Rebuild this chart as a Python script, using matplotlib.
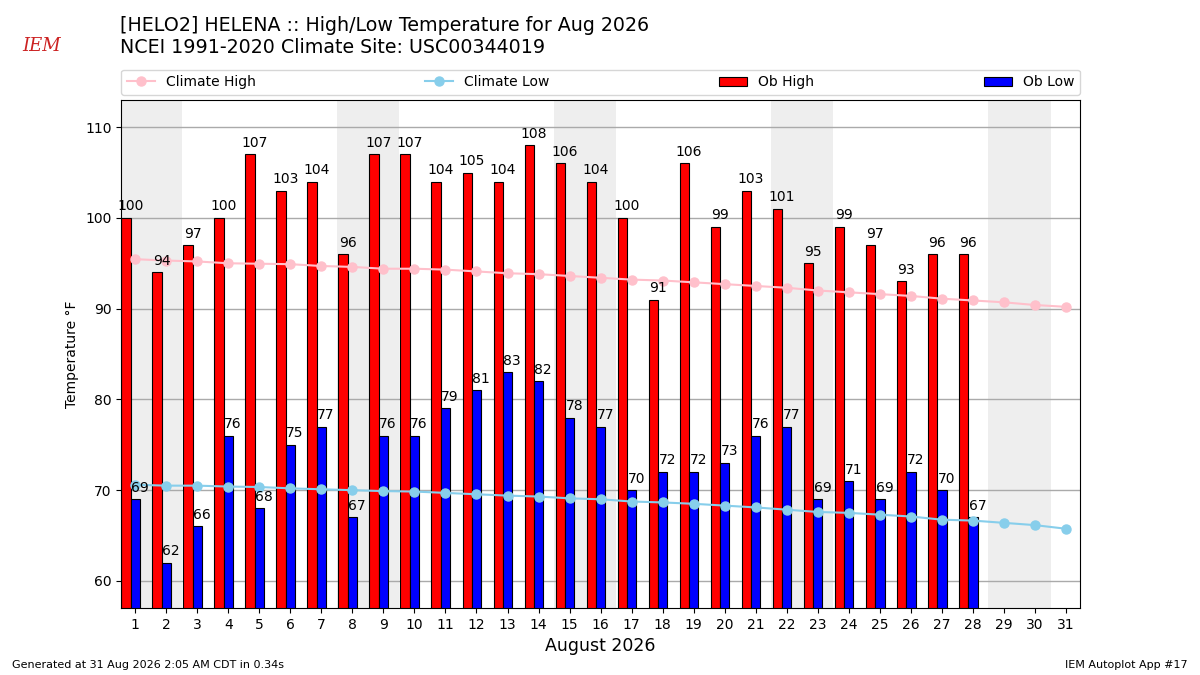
import numpy as np
import matplotlib
matplotlib.use('Agg')
import matplotlib.pyplot as plt

days = np.arange(1, 32)
ob_days = np.arange(1, 29)
ob_high = [100, 94, 97, 100, 107, 103, 104, 96, 107, 107, 104, 105, 104, 108,
           106, 104, 100, 91, 106, 99, 103, 101, 95, 99, 97, 93, 96, 96]
ob_low = [69, 62, 66, 76, 68, 75, 77, 67, 76, 76, 79, 81, 83, 82,
          78, 77, 70, 72, 72, 73, 76, 77, 69, 71, 69, 72, 70, 67]
clim_high = [95.45, 95.3, 95.2, 95.0, 94.95, 94.9, 94.7, 94.6, 94.4, 94.4, 94.3,
             94.1, 93.9, 93.8, 93.6, 93.4, 93.2, 93.1, 92.9, 92.7, 92.5, 92.3,
             92.0, 91.8, 91.6, 91.4, 91.1, 90.9, 90.7, 90.4, 90.2]
clim_low = [70.6, 70.5, 70.5, 70.4, 70.35, 70.2, 70.1, 70.0, 69.9, 69.85, 69.7,
            69.55, 69.4, 69.3, 69.1, 69.0, 68.75, 68.65, 68.5, 68.3, 68.1, 67.85,
            67.6, 67.5, 67.3, 67.1, 66.75, 66.65, 66.4, 66.15, 65.75]
weekend_starts = [1, 8, 15, 22, 29]

fig = plt.figure(figsize=(12, 6.75), dpi=100)
ax = fig.add_axes([0.101, 0.099, 0.799, 0.753])

for d in weekend_starts:
    ax.axvspan(d - 0.5, d + 1.5, color='#eeeeee', zorder=0, lw=0)

b_hi = ax.bar(ob_days - 0.3, ob_high, width=0.3, fc='r', ec='k', lw=0.8, label='Ob High', zorder=2)
b_lo = ax.bar(ob_days, ob_low, width=0.3, fc='b', ec='k', lw=0.8, label='Ob Low', zorder=2)
for d, h, l in zip(ob_days, ob_high, ob_low):
    ax.text(d - 0.15, h + 0.5, f'{h}', ha='center', va='bottom', fontsize=10, zorder=5)
    ax.text(d + 0.15, l + 0.5, f'{l}', ha='center', va='bottom', fontsize=10, zorder=5)

l_hi, = ax.plot(days, clim_high, 'o-', color='pink', lw=1.5, ms=6.5, label='Climate High', zorder=3)
l_lo, = ax.plot(days, clim_low, 'o-', color='skyblue', lw=1.5, ms=6.5, label='Climate Low', zorder=3)

ax.set_xlim(0.55, 31.45)
ax.set_ylim(57, 113)
ax.set_xticks(days)
ax.set_yticks([60, 70, 80, 90, 100, 110])
ax.grid(axis='y', color='#aaaaaa', lw=1)
ax.set_axisbelow(True)
ax.set_ylabel('Temperature °F')
ax.set_xlabel('August 2026', fontsize=12.5)

ax.legend([l_hi, l_lo, b_hi, b_lo], ['Climate High', 'Climate Low', 'Ob High', 'Ob Low'],
          loc='lower left', bbox_to_anchor=(0, 1.01, 1, 0.05), mode='expand', ncol=4,
          borderaxespad=0)

fig.text(0.1, 0.976, '[HELO2] HELENA :: High/Low Temperature for Aug 2026\n'
         'NCEI 1991-2020 Climate Site: USC00344019', fontsize=13.7, va='top', ha='left')
fig.text(0.035, 0.925, 'IEM', color='#cc2222', family='DejaVu Serif', style='italic',
         fontsize=13, ha='center')
fig.text(0.01, 0.01, 'Generated at 31 Aug 2026 2:05 AM CDT in 0.34s', fontsize=8)
fig.text(0.99, 0.01, 'IEM Autoplot App #17', fontsize=8, ha='right')

fig.savefig('out.png')
